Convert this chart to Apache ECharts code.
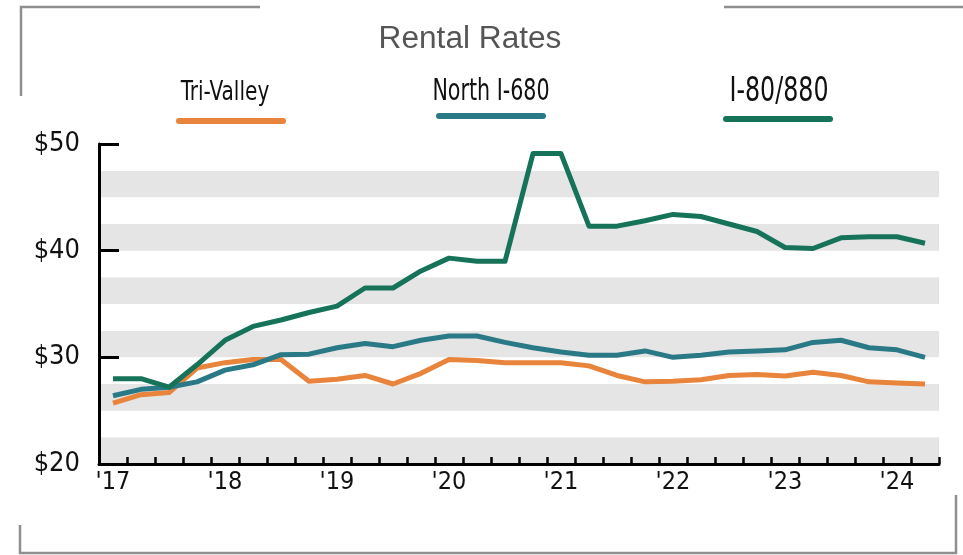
<!DOCTYPE html>
<html>
<head>
<meta charset="utf-8">
<script src="https://cdn.jsdelivr.net/npm/echarts@6/dist/echarts.min.js"></script>
<style>
  html, body { margin: 0; padding: 0; background: #fff; }
  #chart { width: 963px; height: 555px; }
</style>
</head>
<body>
<div id="chart"></div>
<script>
// quarterly rental rates, Q1 2017 .. Q2 2024
var quarters = [
  '2017 Q1', '2017 Q2', '2017 Q3', '2017 Q4',
  '2018 Q1', '2018 Q2', '2018 Q3', '2018 Q4',
  '2019 Q1', '2019 Q2', '2019 Q3', '2019 Q4',
  '2020 Q1', '2020 Q2', '2020 Q3', '2020 Q4',
  '2021 Q1', '2021 Q2', '2021 Q3', '2021 Q4',
  '2022 Q1', '2022 Q2', '2022 Q3', '2022 Q4',
  '2023 Q1', '2023 Q2', '2023 Q3', '2023 Q4',
  '2024 Q1', '2024 Q2'
];

var triValley = [
  25.7, 26.5, 26.7, 29.0, 29.5, 29.8, 29.8, 27.75, 27.95, 28.3,
  27.5, 28.5, 29.8, 29.7, 29.5, 29.5, 29.5, 29.2, 28.3, 27.7,
  27.75, 27.9, 28.3, 28.4, 28.25, 28.6, 28.3, 27.7, 27.6, 27.5
];
var northI680 = [
  26.4, 27.0, 27.2, 27.7, 28.8, 29.3, 30.25, 30.3, 30.9, 31.3,
  31.0, 31.6, 32.0, 32.0, 31.4, 30.9, 30.5, 30.2, 30.2, 30.6,
  30.0, 30.2, 30.5, 30.6, 30.7, 31.4, 31.6, 30.9, 30.7, 30.0
];
var i80880 = [
  28.0, 28.0, 27.2, 29.3, 31.6, 32.9, 33.5, 34.2, 34.8, 36.5,
  36.5, 38.1, 39.3, 39.0, 39.0, 49.1, 49.1, 42.3, 42.3, 42.8,
  43.4, 43.2, 42.5, 41.8, 40.3, 40.2, 41.2, 41.3, 41.3, 40.7
];

var seriesNames = ['Tri-Valley', 'North I-680', 'I-80/880'];
var seriesColors = ['#e8843c', '#2a7987', '#16735a'];

var narrow = "'DejaVu Sans Condensed', 'Liberation Sans Narrow', sans-serif";
var pill = 'path://M3,0 H107 A3,3 0 0 1 107,6 H3 A3,3 0 0 1 3,0 Z';
var frameGray = '#8f8f8f';

function legendFor(name, left, top) {
  return {
    data: [name],
    left: left,
    top: top,
    padding: 0,
    icon: pill,
    itemWidth: 110,
    itemHeight: 6,
    selectedMode: false,
    formatter: function () { return ''; }
  };
}

// legend names sit above the pills, squeezed to look like the condensed face
function nameLabel(text, x, y, size, sx) {
  return {
    type: 'text', x: x, y: y, scaleX: sx,
    style: { text: text, fontFamily: narrow, fontSize: size, fill: '#111', align: 'center', verticalAlign: 'middle' }
  };
}

function lineSeries(name, values, color) {
  return {
    name: name,
    type: 'line',
    data: values,
    symbol: 'none',
    color: color,
    lineStyle: { width: 5, color: color, join: 'round' },
    z: 3
  };
}

var chart = echarts.init(document.getElementById('chart'));

chart.setOption({
  backgroundColor: '#fff',
  animation: false,
  grid: { left: 99, right: 24, top: 144, height: 320 },
  legend: [
    legendFor('Tri-Valley', 176, 118),
    legendFor('North I-680', 436, 113),
    legendFor('I-80/880', 723, 116)
  ],
  xAxis: {
    type: 'category',
    data: quarters,
    boundaryGap: true,
    axisLine: { lineStyle: { color: '#000', width: 3 } },
    axisTick: { show: true, inside: true, length: 7, interval: 0, lineStyle: { color: '#000', width: 2.5 } },
    axisLabel: {
      interval: 3,
      margin: 6,
      fontFamily: narrow,
      fontSize: 25,
      color: '#111',
      formatter: function (v) { return "'" + v.slice(2, 4); }
    },
    splitLine: { show: false }
  },
  yAxis: [
    {
      type: 'value',
      min: 20,
      max: 50,
      interval: 10,
      axisLine: { show: true, lineStyle: { color: '#000', width: 3 } },
      axisTick: { show: true, inside: true, length: 20, lineStyle: { color: '#000', width: 3 } },
      axisLabel: {
        margin: 19,
        fontFamily: narrow,
        fontSize: 27,
        color: '#111',
        formatter: function (v) { return '$' + v; }
      },
      splitLine: { show: false },
      z: 4
    },
    {
      type: 'value',
      min: 20,
      max: 50,
      interval: 2.5,
      position: 'left',
      axisLine: { show: false },
      axisTick: { show: false },
      axisLabel: { show: false },
      splitLine: { show: false },
      splitArea: { show: true, areaStyle: { color: ['#e5e5e5', '#ffffff'] } }
    }
  ],
  series: [
    lineSeries(seriesNames[0], triValley, seriesColors[0]),
    lineSeries(seriesNames[1], northI680, seriesColors[1]),
    lineSeries(seriesNames[2], i80880, seriesColors[2])
  ],
  graphic: [
    // frame brackets
    { type: 'polyline', shape: { points: [[21, 96], [21, 7], [260, 7]] }, style: { stroke: frameGray, lineWidth: 2.5, fill: null } },
    { type: 'polyline', shape: { points: [[724, 7], [963, 7]] }, style: { stroke: frameGray, lineWidth: 2.5, fill: null } },
    { type: 'polyline', shape: { points: [[20, 525], [20, 553], [956, 553], [956, 495]] }, style: { stroke: frameGray, lineWidth: 2.5, fill: null } },
    // title and legend names
    { type: 'text', x: 470, y: 39, scaleX: 1.02, style: { text: 'Rental Rates', fontFamily: "'Liberation Sans', sans-serif", fontSize: 31, fill: '#555', align: 'center', verticalAlign: 'middle' } },
    nameLabel('Tri-Valley', 225, 93, 26, 0.86),
    nameLabel('North I-680', 491, 92, 31, 0.74),
    nameLabel('I-80/880', 779, 92, 33, 0.8)
  ]
});
</script>
</body>
</html>
